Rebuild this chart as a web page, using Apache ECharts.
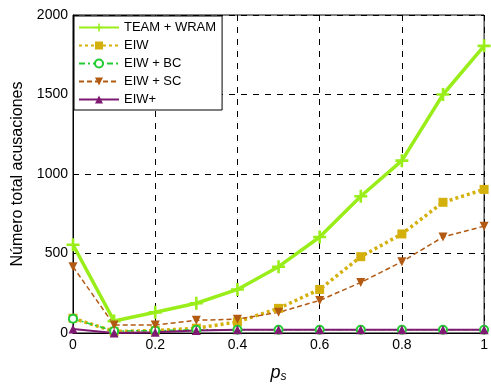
<!DOCTYPE html>
<html><head><meta charset="utf-8">
<script src="https://cdn.jsdelivr.net/npm/echarts@6/dist/echarts.min.js"></script>
<style>html,body{margin:0;padding:0;background:#fff}#c{width:491px;height:388px}</style>
</head><body><div id="c"></div>
<script>
var xs = [0, 0.1, 0.2, 0.3, 0.4, 0.5, 0.6, 0.7, 0.8, 0.9, 1];
var teamWram = [555, 75, 130, 187, 274, 417, 604, 860, 1084, 1500, 1806];
var eiw = [93, 10, 15, 30, 70, 155, 274, 480, 623, 822, 903];
var eiwBc = [90, 12, 15, 20, 20, 20, 20, 20, 20, 20, 20];
var eiwSc = [417, 50, 50, 80, 87, 130, 205, 318, 448, 604, 672];
var eiwPlus = [25, 0, 5, 15, 20, 20, 20, 20, 20, 20, 20];
var names = ['TEAM + WRAM', 'EIW', 'EIW + BC', 'EIW + SC', 'EIW+'];
var xTicks = ['0', '0.2', '0.4', '0.6', '0.8', '1'];

function pairs(v){ return xs.map(function(x,i){ return [x, v[i]]; }); }
var plusPath = 'path://M-1,-5L1,-5L1,-1L5,-1L5,1L1,1L1,5L-1,5L-1,1L-5,1L-5,-1L-1,-1Z';
var font = 'Liberation Sans, Arial, sans-serif';
var chart = echarts.init(document.getElementById('c'));
chart.setOption({
  animation: false,
  grid: {left: 73, right: 1, top: 15, bottom: 51, show: true, borderColor: '#000', borderWidth: 1},
  legend: {
    left: 74, top: 16, orient: 'vertical', backgroundColor: '#fff',
    borderColor: '#000', borderWidth: 1, borderRadius: 0,
    padding: [5, 6, 4, 4], itemWidth: 40, itemHeight: 10, itemGap: 5,
    textStyle: {fontFamily: font, fontSize: 13, color: '#000'},
    data: names
  },
  xAxis: {
    type: 'value', min: 0, max: 1, interval: 0.2,
    name: '{p|p}{s|s}', nameLocation: 'middle', nameGap: 30,
    nameTextStyle: {rich: {p: {fontFamily: font, fontStyle: 'italic', fontSize: 18, color: '#000'},
                           s: {fontFamily: font, fontStyle: 'italic', fontSize: 12, color: '#000', verticalAlign: 'bottom', padding: [8,0,0,0]}}},
    axisLine: {lineStyle: {color: '#000'}},
    axisTick: {inside: true, length: 5, lineStyle: {color: '#000'}},
    axisLabel: {fontFamily: font, fontSize: 14, color: '#000', margin: 5,
      formatter: function(v){ var s = String(Math.round(v*10)/10); return xTicks.indexOf(s) >= 0 ? s : ''; }},
    splitLine: {show: true, lineStyle: {color: '#000', type: [6, 6], width: 1}}
  },
  yAxis: {
    type: 'value', min: 0, max: 2000, interval: 500,
    name: 'Número total acusaciones', nameLocation: 'middle', nameGap: 46,
    nameTextStyle: {fontFamily: font, fontSize: 16, color: '#000'},
    axisLine: {show: true, lineStyle: {color: '#000'}},
    axisTick: {show: true, inside: true, length: 5, lineStyle: {color: '#000'}},
    axisLabel: {fontFamily: font, fontSize: 14, color: '#000', margin: 5,
      formatter: function(v){ return String(v); }},
    splitLine: {show: true, lineStyle: {color: '#000', type: [6, 6], width: 1}}
  },
  series: [
    {name: names[0], type: 'line', data: pairs(teamWram), symbol: plusPath, symbolSize: 13,
     itemStyle: {color: '#99ee1a'}, lineStyle: {width: 3.5, color: '#99ee1a'}},
    {name: names[1], type: 'line', data: pairs(eiw), symbol: 'rect', symbolSize: 9,
     itemStyle: {color: '#d4b00c'}, lineStyle: {width: 3.5, type: [3, 3], color: '#d4b00c'}},
    {name: names[2], type: 'line', data: pairs(eiwBc), symbol: 'emptyCircle', symbolSize: 8,
     itemStyle: {color: '#22cc33', borderWidth: 2}, lineStyle: {width: 1.5, type: [6, 3, 2, 3], color: '#22cc33'}},
    {name: names[3], type: 'line', data: pairs(eiwSc), symbol: 'triangle', symbolRotate: 180, symbolSize: 9,
     itemStyle: {color: '#b35a12'}, lineStyle: {width: 1.5, type: [5, 3], color: '#b35a12'}},
    {name: names[4], type: 'line', data: pairs(eiwPlus), symbol: 'triangle', symbolSize: 9,
     itemStyle: {color: '#7f1a72'}, lineStyle: {width: 2, color: '#7f1a72'}}
  ]
});
</script></body></html>
